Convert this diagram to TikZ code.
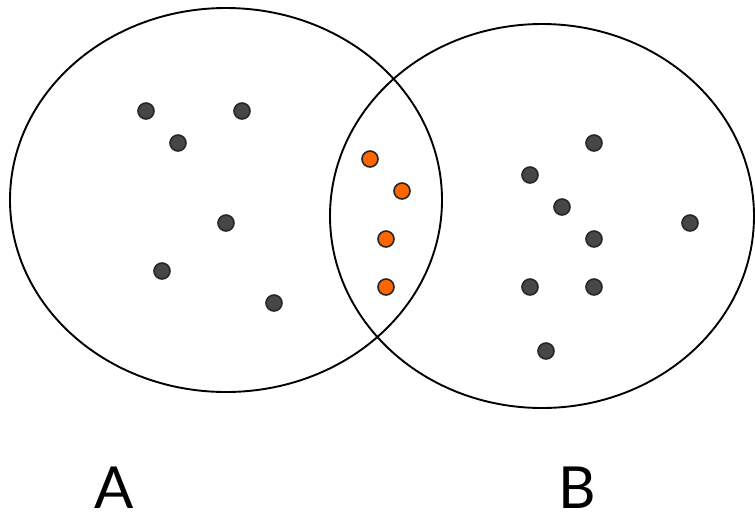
\documentclass[tikz,border=0pt]{standalone}
\usepackage{fontspec}
\setmainfont{Lato}
\begin{document}
\begin{tikzpicture}[x=1pt,y=-1pt,
  darkdot/.style={circle,draw=black!85,fill=black!72,line width=1.6pt,minimum size=16pt,inner sep=0pt},
  orangedot/.style={circle,draw=black!85,fill={rgb,255:red,255;green,102;blue,0},line width=1.6pt,minimum size=16pt,inner sep=0pt},
  setlabel/.style={anchor=base,font=\fontsize{58}{58}\selectfont,inner sep=0pt}]
\useasboundingbox (0,0) rectangle (755,515);
\draw[line width=1.9pt] (226,200) ellipse [x radius=216, y radius=192];
\draw[line width=1.9pt] (542,216) ellipse [x radius=212, y radius=192];
\node[darkdot] (a1) at (146,111) {};
\node[darkdot] (a2) at (242,111) {};
\node[darkdot] (a3) at (178,143) {};
\node[darkdot] (a4) at (226,223) {};
\node[darkdot] (a5) at (162,271) {};
\node[darkdot] (a6) at (274,303) {};
\node[orangedot] (c1) at (370,159) {};
\node[orangedot] (c2) at (402,191) {};
\node[orangedot] (c3) at (386,239) {};
\node[orangedot] (c4) at (386,287) {};
\node[darkdot] (b1) at (594,143) {};
\node[darkdot] (b2) at (530,175) {};
\node[darkdot] (b3) at (562,207) {};
\node[darkdot] (b4) at (594,239) {};
\node[darkdot] (b5) at (690,223) {};
\node[darkdot] (b6) at (530,287) {};
\node[darkdot] (b7) at (594,287) {};
\node[darkdot] (b8) at (546,351) {};
\node[setlabel] (la) at (114,508) {A};
\node[setlabel] (lb) at (577,508) {B};
\end{tikzpicture}
\end{document}
